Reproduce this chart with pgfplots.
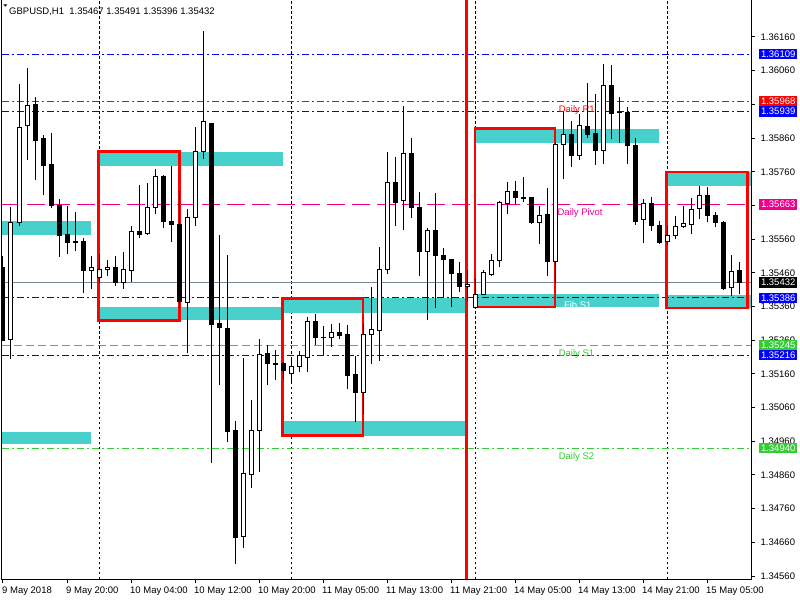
\documentclass[border=0pt]{standalone}
\usepackage{fontspec}
\setmainfont{Liberation Sans}
\usepackage{pgfplots}
\usepackage{pgfplotstable}
\pgfplotsset{compat=1.18}
\definecolor{turq}{RGB}{72,209,204}
\definecolor{limeg}{RGB}{50,205,50}
\definecolor{bidgray}{RGB}{119,136,153}
\definecolor{mtblue}{RGB}{0,0,255}

\pgfplotstableread{
k o h l c
0 1.35477 1.35511 1.35258 1.35258
1 1.35262 1.35654 1.35205 1.35610
2 1.35610 1.36021 1.35600 1.35892
3 1.35898 1.36069 1.35796 1.35957
4 1.35961 1.35981 1.35736 1.35853
5 1.35859 1.35869 1.35692 1.35778
6 1.35782 1.35875 1.35653 1.35659
7 1.35661 1.35679 1.35508 1.35570
8 1.35574 1.35658 1.35516 1.35550
9 1.35554 1.35641 1.35525 1.35550
10 1.35554 1.35563 1.35400 1.35466
11 1.35467 1.35510 1.35411 1.35476
12 1.35446 1.35516 1.35429 1.35471
13 1.35470 1.35497 1.35451 1.35476
14 1.35476 1.35509 1.35422 1.35430
15 1.35430 1.35521 1.35412 1.35470
16 1.35467 1.35599 1.35433 1.35582
17 1.35582 1.35721 1.35564 1.35573
18 1.35576 1.35727 1.35572 1.35654
19 1.35654 1.35767 1.35636 1.35746
20 1.35746 1.35751 1.35593 1.35611
21 1.35612 1.35776 1.35552 1.35603
22 1.35604 1.35702 1.35356 1.35376
23 1.35371 1.35648 1.35221 1.35624
24 1.35623 1.35892 1.35600 1.35821
25 1.35821 1.36177 1.35799 1.35910
26 1.35902 1.35905 1.34895 1.35308
27 1.35310 1.35571 1.35126 1.35297
28 1.35296 1.35512 1.34957 1.34990
29 1.34993 1.35021 1.34597 1.34675
30 1.34676 1.35208 1.34643 1.34863
31 1.34860 1.35083 1.34820 1.34991
32 1.34991 1.35265 1.34868 1.35217
33 1.35221 1.35247 1.35126 1.35190
34 1.35191 1.35232 1.35142 1.35189
35 1.35190 1.35196 1.35145 1.35169
36 1.35160 1.35208 1.35132 1.35181
37 1.35181 1.35229 1.35167 1.35215
38 1.35210 1.35328 1.35165 1.35315
39 1.35315 1.35339 1.35247 1.35267
40 1.35269 1.35303 1.35215 1.35268
41 1.35268 1.35307 1.35241 1.35282
42 1.35282 1.35310 1.35264 1.35274
43 1.35276 1.35306 1.35115 1.35156
44 1.35158 1.35212 1.35017 1.35106
45 1.35106 1.35309 1.35041 1.35276
46 1.35278 1.35417 1.35189 1.35291
47 1.35290 1.35536 1.35198 1.35470
48 1.35470 1.35819 1.35456 1.35729
49 1.35727 1.35804 1.35600 1.35668
50 1.35674 1.35954 1.35587 1.35815
51 1.35815 1.35860 1.35623 1.35653
52 1.35655 1.35700 1.35451 1.35523
53 1.35523 1.35593 1.35320 1.35586
54 1.35586 1.35697 1.35356 1.35511
55 1.35512 1.35533 1.35387 1.35499
56 1.35499 1.35501 1.35359 1.35459
57 1.35458 1.35491 1.35403 1.35418
58 1.35419 1.35468 1.35376 1.35425
59 1.35357 1.35441 1.35356 1.35395
60 1.35395 1.35468 1.35393 1.35460
61 1.35454 1.35516 1.35451 1.35496
62 1.35497 1.35673 1.35478 1.35669
63 1.35666 1.35731 1.35636 1.35702
64 1.35702 1.35734 1.35663 1.35683
65 1.35683 1.35744 1.35669 1.35680
66 1.35684 1.35685 1.35606 1.35608
67 1.35610 1.35658 1.35546 1.35631
68 1.35634 1.35711 1.35452 1.35493
69 1.35493 1.35844 1.35429 1.35841
70 1.35842 1.35936 1.35739 1.35871
71 1.35872 1.35912 1.35774 1.35808
72 1.35808 1.35930 1.35795 1.35898
73 1.35895 1.36024 1.35861 1.35871
74 1.35874 1.35991 1.35781 1.35823
75 1.35823 1.36080 1.35784 1.36015
76 1.36015 1.36077 1.35856 1.35933
77 1.35937 1.35982 1.35846 1.35935
78 1.35935 1.35952 1.35782 1.35838
79 1.35838 1.35859 1.35603 1.35611
80 1.35618 1.35680 1.35550 1.35666
81 1.35666 1.35684 1.35584 1.35601
82 1.35601 1.35613 1.35546 1.35550
83 1.35553 1.35598 1.35544 1.35571
84 1.35571 1.35628 1.35560 1.35598
85 1.35598 1.35658 1.35593 1.35607
86 1.35603 1.35682 1.35576 1.35649
87 1.35651 1.35718 1.35620 1.35690
88 1.35690 1.35715 1.35610 1.35631
89 1.35631 1.35640 1.35597 1.35610
90 1.35610 1.35613 1.35408 1.35413
91 1.35416 1.35514 1.35392 1.35465
92 1.35467 1.35491 1.35396 1.35432
}\candles

\begin{document}
\begin{tikzpicture}[font=\fontsize{9.5}{11}\selectfont]
\path[use as bounding box, fill=white] (0,0) rectangle (800pt,600pt);
\pgfplotstablegetrowsof{\candles}
\pgfmathtruncatemacro{\lastrow}{\pgfplotsretval-1}
\begin{axis}[
  at={(2pt,21pt)}, anchor=south west,
  width=749pt, height=579pt, scale only axis,
  xmin=-0.125, xmax=93.5, ymin=1.345512, ymax=1.362698,
  axis line style={black, line width=1pt},
  xtick={0,8,16,24,32,40,48,56,64,72,80,88},
  xticklabels={9 May 2018, 9 May 20:00, 10 May 04:00, 10 May 12:00, 10 May 20:00, 11 May 05:00, 11 May 13:00, 11 May 21:00, 14 May 05:00, 14 May 13:00, 14 May 21:00, 15 May 05:00},
  ytick={1.3456,1.3466,1.3476,1.3486,1.3496,1.3506,1.3516,1.3526,1.3536,1.3546,1.3556,1.3566,1.3576,1.3586,1.3596,1.3606,1.3616},
  yticklabels={1.34560,1.34660,1.34760,1.34860,1.34960,1.35060,1.35160,1.35260,1.35360,1.35460,1.35560,{},1.35760,1.35860,{},1.36060,1.36160},
  xtick pos=left, ytick pos=right, xticklabel pos=left, yticklabel pos=right,
  tick align=outside, major tick length=4pt,
  tick style={black, line width=1pt},
  x tick label style={anchor=north west, inner sep=0pt, xshift=-1pt, yshift=-3.5pt},
  y tick label style={anchor=west, inner sep=0pt, xshift=5.5pt},
  extra x ticks={12,36,59,83}, extra x tick labels={},
  extra x tick style={grid=major, major tick length=0pt,
    major grid style={black, line width=1pt, dash pattern=on 2.5pt off 2.5pt}},
  scaled y ticks=false,
  /pgf/number format/assume math mode=true,
]
% cyan zones
\addplot[fill=turq, draw=none] coordinates {(-0.125,1.35573) (11,1.35573) (11,1.35613) (-0.125,1.35613)} --cycle;
\addplot[fill=turq, draw=none] coordinates {(-0.125,1.34951) (11,1.34951) (11,1.34989) (-0.125,1.34989)} --cycle;
\addplot[fill=turq, draw=none] coordinates {(12,1.35778) (35,1.35778) (35,1.35819) (12,1.35819)} --cycle;
\addplot[fill=turq, draw=none] coordinates {(12,1.35319) (35,1.35319) (35,1.35358) (12,1.35358)} --cycle;
\addplot[fill=turq, draw=none] coordinates {(35,1.35341) (57.9,1.35341) (57.9,1.35384) (35,1.35384)} --cycle;
\addplot[fill=turq, draw=none] coordinates {(35,1.34977) (57.9,1.34977) (57.9,1.35019) (35,1.35019)} --cycle;
\addplot[fill=turq, draw=none] coordinates {(59,1.35846) (82,1.35846) (82,1.35888) (59,1.35888)} --cycle;
\addplot[fill=turq, draw=none] coordinates {(59,1.35359) (82,1.35359) (82,1.35396) (59,1.35396)} --cycle;
\addplot[fill=turq, draw=none] coordinates {(83,1.35719) (93.5,1.35719) (93.5,1.35759) (83,1.35759)} --cycle;
\addplot[fill=turq, draw=none] coordinates {(83,1.35356) (93.5,1.35356) (93.5,1.35394) (83,1.35394)} --cycle;
% level lines
\addplot[mtblue, line width=1pt, dash pattern=on 7pt off 3pt on 2pt off 3pt] coordinates {(-0.125,1.36109) (93.5,1.36109)};
\addplot[red, line width=1pt, dash pattern=on 7pt off 3pt on 2pt off 3pt] coordinates {(-0.125,1.35968) (93.5,1.35968)};
\addplot[mtblue, line width=1pt, dash pattern=on 7pt off 3pt on 2pt off 3pt] coordinates {(-0.125,1.35939) (93.5,1.35939)};
\addplot[magenta, line width=1pt, dash pattern=on 18pt off 7pt] coordinates {(-0.125,1.35663) (93.5,1.35663)};
\addplot[bidgray, line width=1pt] coordinates {(-0.125,1.35432) (93.5,1.35432)};
\addplot[mtblue, line width=1pt, dash pattern=on 7pt off 3pt on 2pt off 3pt] coordinates {(-0.125,1.35386) (93.5,1.35386)};
\addplot[limeg, line width=1pt, dash pattern=on 8pt off 4pt] coordinates {(-0.125,1.35245) (93.5,1.35245)};
\addplot[mtblue, line width=1pt, dash pattern=on 7pt off 3pt on 2pt off 3pt] coordinates {(-0.125,1.35216) (93.5,1.35216)};
\addplot[limeg, line width=1pt, dash pattern=on 7pt off 3pt on 2pt off 3pt] coordinates {(-0.125,1.34940) (93.5,1.34940)};
% red boxes
\addplot[red, line width=2.5pt] coordinates {(11.96,1.35319) (22.04,1.35319) (22.04,1.35820) (11.96,1.35820)} --cycle;
\addplot[red, line width=2.5pt] coordinates {(34.96,1.34977) (45.0,1.34977) (45.0,1.35384) (34.96,1.35384)} --cycle;
\addplot[red, line width=2.5pt] coordinates {(59,1.35359) (69,1.35359) (69,1.35888) (59,1.35888)} --cycle;
\addplot[red, line width=2.5pt] coordinates {(82.96,1.35356) (93.09,1.35356) (93.09,1.35759) (82.96,1.35759)} --cycle;
% vertical line
\addplot[red, line width=2.5pt] coordinates {(57.95,1.345512) (57.95,1.362698)};
% level texts
\node[anchor=north west, inner sep=0pt, text=red] at (axis cs:69.45,1.35968) [yshift=-4pt] {Daily R1};
\node[anchor=north west, inner sep=0pt, text=magenta] at (axis cs:69.3,1.35663) [yshift=-4pt] {Daily Pivot};
\node[anchor=north west, inner sep=0pt, text=white] at (axis cs:70.1,1.35386) [yshift=-4pt] {Fib S1};
\node[anchor=north west, inner sep=0pt, text=limeg] at (axis cs:69.45,1.35245) [yshift=-4pt] {Daily S1};
\node[anchor=north west, inner sep=0pt, text=limeg] at (axis cs:69.45,1.34940) [yshift=-4pt] {Daily S2};
% candles
\pgfplotsforeachungrouped \i in {0,...,\lastrow}{%
  \pgfplotstablegetelem{\i}{k}\of\candles \let\ck=\pgfplotsretval
  \pgfplotstablegetelem{\i}{o}\of\candles \let\co=\pgfplotsretval
  \pgfplotstablegetelem{\i}{h}\of\candles \let\ch=\pgfplotsretval
  \pgfplotstablegetelem{\i}{l}\of\candles \let\cl=\pgfplotsretval
  \pgfplotstablegetelem{\i}{c}\of\candles \let\cc=\pgfplotsretval
  \pgfmathsetmacro\xa{\ck-0.25}%
  \pgfmathsetmacro\xb{\ck+0.25}%
  \ifdim\cc pt<\co pt \def\bodyfill{black}\else\def\bodyfill{white}\fi
  \edef\tmp{%
    \noexpand\addplot[black, line width=1pt, forget plot] coordinates {(\ck,\cl) (\ck,\ch)};%
    \noexpand\addplot[draw=black, fill=\bodyfill, line width=1pt, forget plot] coordinates {(\xa,\co) (\xb,\co) (\xb,\cc) (\xa,\cc)} --cycle;%
  }\tmp
}
\coordinate (L1) at (axis cs:93.5,1.36109);
\coordinate (L2) at (axis cs:93.5,1.35968);
\coordinate (L3) at (axis cs:93.5,1.35939);
\coordinate (L4) at (axis cs:93.5,1.35663);
\coordinate (L5) at (axis cs:93.5,1.35432);
\coordinate (L6) at (axis cs:93.5,1.35386);
\coordinate (L7) at (axis cs:93.5,1.35245);
\coordinate (L8) at (axis cs:93.5,1.35216);
\coordinate (L9) at (axis cs:93.5,1.34940);
\end{axis}
\foreach \n/\c/\t in {L1/mtblue/1.36109, L2/red/1.35968, L3/mtblue/1.35939, L4/magenta/1.35663, L5/black/1.35432, L6/mtblue/1.35386, L7/limeg/1.35245, L8/mtblue/1.35216, L9/limeg/1.34940}
  \node[fill=\c, text=white, minimum width=38pt, minimum height=10.5pt, inner sep=0pt, anchor=west] at ([xshift=8pt]\n) {\t};
\fill[black] (3.3pt,595.7pt) -- (7.3pt,595.7pt) -- (5.3pt,593.3pt) -- cycle;
\node[anchor=west, inner sep=0pt] at (9pt,588pt) {GBPUSD,H1\ \ 1.35467 1.35491 1.35396 1.35432};
\end{tikzpicture}
\end{document}
